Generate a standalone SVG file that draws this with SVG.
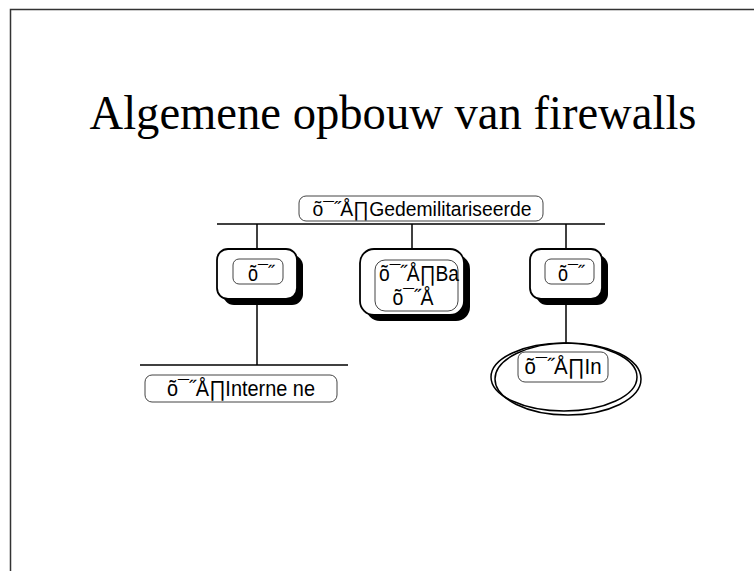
<svg xmlns="http://www.w3.org/2000/svg" width="754" height="571" viewBox="0 0 754 571">
<style>
.ln{stroke:#000;stroke-width:1.5;fill:none}
.box{fill:#fff;stroke:#000;stroke-width:1.8}
.sh{fill:#000}
.lbl{fill:#fff;stroke:#444;stroke-width:1}
.t{font-family:"Liberation Sans",Arial,sans-serif;font-size:22px;fill:#000;text-anchor:middle}
.title{font-family:"Liberation Serif","Times New Roman",serif;font-size:48px;fill:#000;text-anchor:middle}
</style>
<rect x="0" y="0" width="754" height="571" fill="#fff"/>
<path d="M10.5 571 V9.5 H754" fill="none" stroke="#333" stroke-width="1.5"/>
<text class="title" x="393" y="129" textLength="607" lengthAdjust="spacingAndGlyphs">Algemene opbouw van firewalls</text>
<g id="connectors">
<line class="ln" x1="217" y1="224" x2="605" y2="224"/>
<line class="ln" x1="257" y1="224" x2="257" y2="250"/>
<line class="ln" x1="412" y1="224" x2="412" y2="250"/>
<line class="ln" x1="566" y1="224" x2="566" y2="250"/>
<line class="ln" x1="257" y1="304" x2="257" y2="365"/>
<line class="ln" x1="140" y1="365" x2="348" y2="365"/>
<line class="ln" x1="566" y1="305" x2="566" y2="344"/>
</g>
<g id="dmz">
<rect class="lbl" x="299" y="196" width="244" height="25" rx="7"/>
<text class="t" x="422" y="216" style="font-size:20.5px" textLength="219" lengthAdjust="spacingAndGlyphs">õ¯˝Å∏Gedemilitariseerde</text>
</g>
<g id="left-box">
<rect class="sh" x="223" y="255" width="80" height="50" rx="11"/>
<rect class="box" x="217" y="249" width="80" height="50" rx="11"/>
<rect class="lbl" x="233" y="259" width="50" height="25" rx="6"/>
<text class="t" x="261" y="281" textLength="26" lengthAdjust="spacingAndGlyphs">õ¯˝</text>
</g>
<g id="middle-box">
<rect class="sh" x="366" y="255" width="104" height="66" rx="14"/>
<rect class="box" x="360" y="249" width="104" height="66" rx="14"/>
<rect class="lbl" x="375" y="260" width="83" height="51" rx="10"/>
<text class="t" x="419" y="281" textLength="80" lengthAdjust="spacingAndGlyphs">õ¯˝Å∏Ba</text>
<text class="t" x="413" y="305" textLength="41" lengthAdjust="spacingAndGlyphs">õ¯˝Å</text>
</g>
<g id="right-box">
<rect class="sh" x="536" y="255" width="72" height="50" rx="11"/>
<rect class="box" x="530" y="249" width="72" height="50" rx="11"/>
<rect class="lbl" x="545" y="259" width="49" height="25" rx="6"/>
<text class="t" x="571" y="281" textLength="26" lengthAdjust="spacingAndGlyphs">õ¯˝</text>
</g>
<g id="internal-net">
<rect class="lbl" x="145" y="375" width="192" height="27" rx="7"/>
<text class="t" x="241" y="396" style="font-size:22px" textLength="148" lengthAdjust="spacingAndGlyphs">õ¯˝Å∏Interne ne</text>
</g>
<g id="internet">
<ellipse cx="568" cy="379" rx="73" ry="36" fill="none" stroke="#000" stroke-width="1.5"/>
<ellipse cx="564" cy="377" rx="73" ry="34" fill="none" stroke="#000" stroke-width="1.5"/>
<rect class="lbl" x="518" y="352" width="90" height="30" rx="7"/>
<text class="t" x="563" y="374" style="font-size:22px" textLength="77" lengthAdjust="spacingAndGlyphs">õ¯˝Å∏In</text>
</g>
</svg>
